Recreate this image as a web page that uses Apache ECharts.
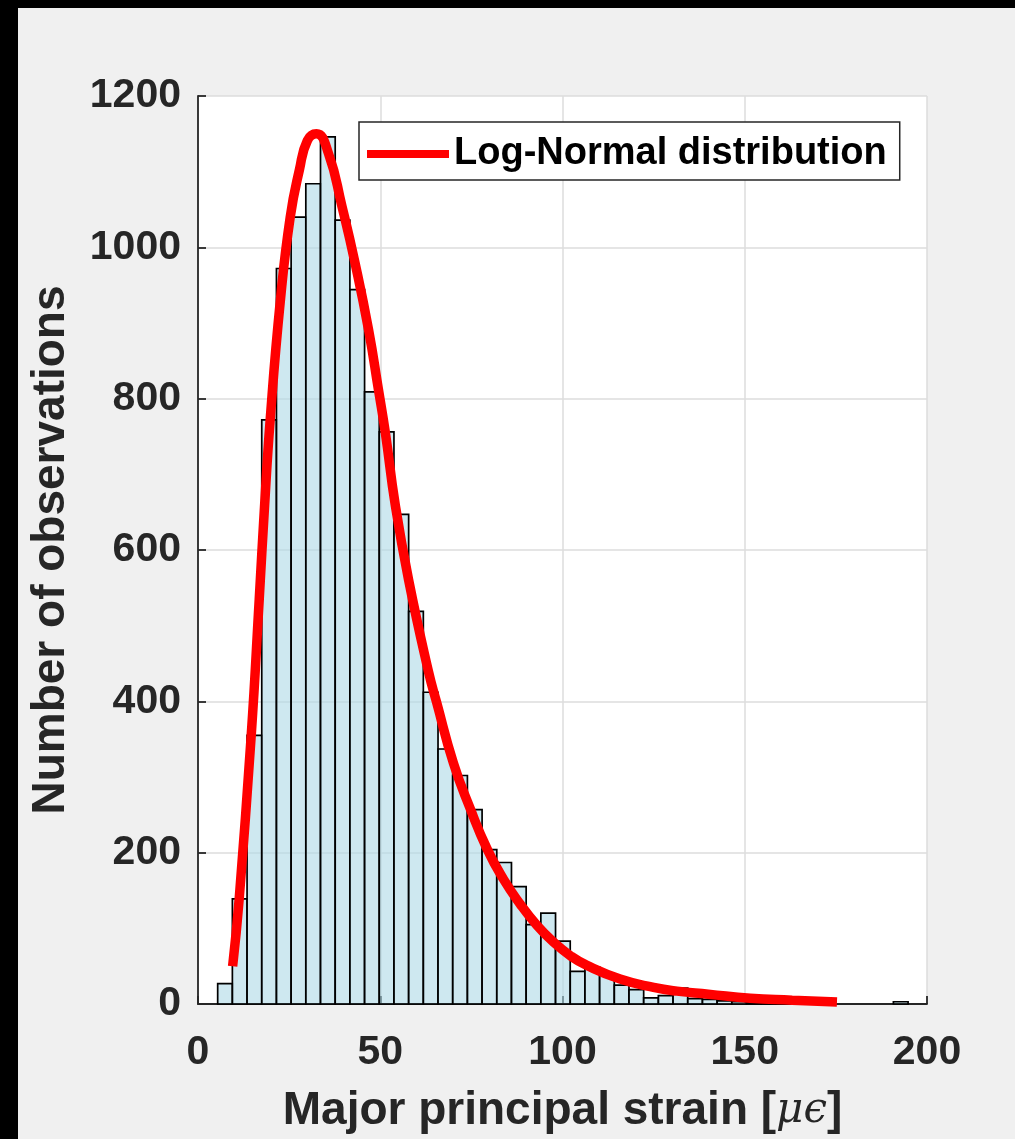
<!DOCTYPE html>
<html><head><meta charset="utf-8">
<script src="https://cdn.jsdelivr.net/npm/echarts@6/dist/echarts.min.js"></script>
<style>html,body{margin:0;padding:0;background:#f0f0f0;overflow:hidden;} #c{width:1015px;height:1139px;}</style>
</head><body><div id="c"></div>
<script>
// ---- data ----
const binStart = 5.4;     // left edge of first bin [microstrain]
const binWidth = 4.03;    // bin width [microstrain]
const binCounts = [27, 139, 355, 772, 972, 1040, 1084, 1146, 1036, 944,
                   809, 756, 647, 519, 412, 337, 302, 257, 204, 187,
                   155, 105, 120, 83, 43, 49, 40, 25, 19, 8,
                   11, 21, 7, 6, 4, 3, 2, 2, 1, 1,
                   1, 0, 0, 0, 0, 0, 3];
const curveX = [9.5, 11.3, 14.6, 16.8, 18.2, 19.8, 22.6, 25.3, 27.8, 30.0,
                32.5, 35.8, 39.5, 43.1, 46.8, 49.5, 51.4, 54.1, 57.8, 63.2,
                65.5, 70.1, 74.7, 79.3, 83.8, 88.4, 93.0, 97.5, 102.1, 106.7,
                115.8, 125.0, 131.4, 140.0, 151.5, 163.0, 175.3];
const curveY = [50, 139, 355, 535, 653, 772, 930, 1040, 1102, 1141,
                1150, 1124, 1054, 979, 891, 812, 755, 660, 560, 440,
                398, 318, 258, 205, 165, 132, 104, 82, 64, 51,
                33, 22, 17, 13, 7.5, 5, 2.5];
const xTicks = [0, 50, 100, 150, 200];
const yTicks = [0, 200, 400, 600, 800, 1000, 1200];
const legendName = 'Log-Normal distribution';

const bars = binCounts
  .map((c, i) => [binStart + i * binWidth, binStart + (i + 1) * binWidth, c])
  .filter(d => d[2] > 0);
const curve = curveX.map((x, i) => [x, curveY[i]]);

const txt = '#262626';
const chart = echarts.init(document.getElementById('c'), null, {renderer: 'canvas'});
chart.setOption({
  animation: false,
  backgroundColor: '#f0f0f0',
  graphic: [
    {type: 'rect', z: 100, shape: {x: 0, y: 0, width: 1015, height: 8}, style: {fill: '#000'}},
    {type: 'rect', z: 100, shape: {x: 0, y: 0, width: 18, height: 1139}, style: {fill: '#000'}}
  ],
  grid: {left: 198, top: 96, width: 729, height: 909, show: true, backgroundColor: '#ffffff', borderWidth: 0},
  legend: {
    data: [{name: legendName, icon: 'rect'}],
    left: 359, top: 122,
    backgroundColor: '#ffffff', borderColor: txt, borderWidth: 1.5, borderRadius: 0,
    padding: [10, 13, 4, 8],
    itemWidth: 82, itemHeight: 8,
    selectedMode: false,
    textStyle: {fontSize: 38, fontWeight: 'bold', fontFamily: 'Liberation Sans', color: '#000', lineHeight: 44}
  },
  xAxis: {
    type: 'value', min: xTicks[0], max: xTicks[xTicks.length - 1], interval: xTicks[1] - xTicks[0],
    axisLine: {show: true, onZero: false, lineStyle: {color: txt, width: 1.8}},
    axisTick: {show: true, inside: true, length: 8, lineStyle: {color: txt, width: 1.8}},
    splitLine: {show: true, lineStyle: {color: '#dcdcdc', width: 1.5}},
    axisLabel: {color: txt, fontSize: 41, fontWeight: 'bold', fontFamily: 'Liberation Sans', margin: 28,
                formatter: v => String(v)},
    name: 'Major principal strain [{it|μϵ}]',
    nameLocation: 'middle', nameGap: 84,
    nameTextStyle: {
      color: txt, fontSize: 46, fontWeight: 'bold', fontFamily: 'Liberation Sans',
      rich: {it: {fontFamily: 'DejaVu Serif', fontStyle: 'italic', fontWeight: 'normal', fontSize: 42, color: txt}}
    }
  },
  yAxis: {
    type: 'value', min: yTicks[0], max: yTicks[yTicks.length - 1], interval: yTicks[1] - yTicks[0],
    axisLine: {show: true, onZero: false, lineStyle: {color: txt, width: 1.8}},
    axisTick: {show: true, inside: true, length: 8, lineStyle: {color: txt, width: 1.8}},
    splitLine: {show: true, lineStyle: {color: '#dcdcdc', width: 1.5}},
    axisLabel: {color: txt, fontSize: 41, fontWeight: 'bold', fontFamily: 'Liberation Sans', margin: 17,
                formatter: v => String(v)},
    name: 'Number of observations',
    nameLocation: 'middle', nameGap: 124,
    nameTextStyle: {color: txt, fontSize: 46, fontWeight: 'bold', fontFamily: 'Liberation Sans'}
  },
  series: [
    {
      type: 'custom',
      name: 'hist',
      data: bars,
      encode: {x: [0, 1], y: 2},
      z: 2,
      renderItem: function (params, api) {
        const p0 = api.coord([api.value(0), api.value(2)]);
        const p1 = api.coord([api.value(1), 0]);
        return {
          type: 'rect',
          shape: {x: p0[0], y: p0[1], width: p1[0] - p0[0], height: p1[1] - p0[1]},
          style: {fill: 'rgba(173,216,230,0.6)', stroke: '#000', lineWidth: 1.7}
        };
      }
    },
    {
      type: 'line',
      name: legendName,
      data: curve,
      smooth: 0.5,
      symbol: 'none',
      z: 5,
      lineStyle: {color: '#ff0000', width: 9.5},
      itemStyle: {color: '#ff0000'}
    }
  ]
});
</script>
</body></html>
